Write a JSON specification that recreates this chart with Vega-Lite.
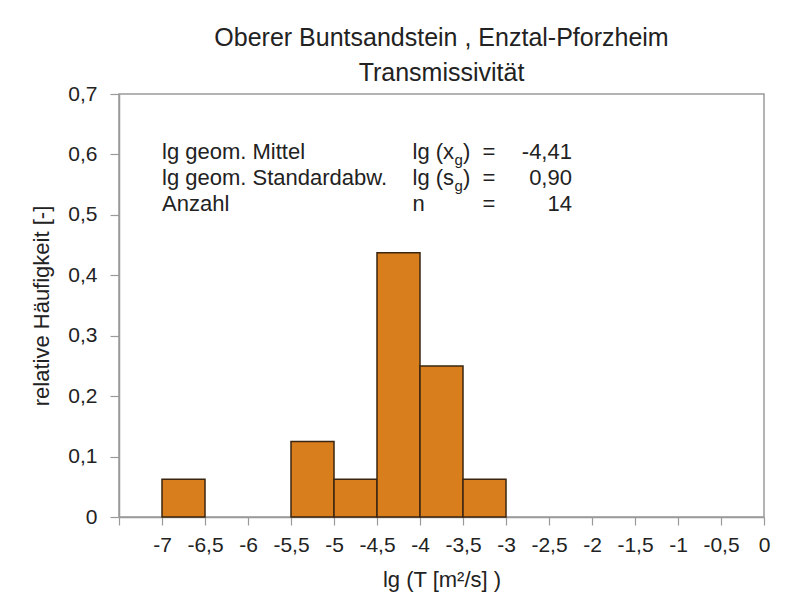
{
  "$schema": "https://vega.github.io/schema/vega-lite/v6.json",
  "width": 645,
  "height": 423,
  "autosize": {"type": "none"},
  "padding": {"left": 119, "top": 94, "right": 24, "bottom": 98},
  "background": "white",
  "title": {
    "text": ["Oberer Buntsandstein , Enztal-Pforzheim", "Transmissivität"],
    "anchor": "middle",
    "fontSize": 25,
    "font": "Liberation Sans",
    "fontWeight": "normal",
    "color": "#222",
    "lineHeight": 35,
    "offset": -3
  },
  "config": {
    "view": {"stroke": "#9a9a9a", "strokeWidth": 1.5},
    "font": "Liberation Sans",
    "axis": {
      "grid": false,
      "domainColor": "#9a9a9a",
      "domainWidth": 1.5,
      "tickColor": "#9a9a9a",
      "tickWidth": 1.2,
      "labelFont": "Liberation Sans",
      "labelFontSize": 21,
      "labelColor": "#222",
      "titleFont": "Liberation Sans",
      "titleFontSize": 22,
      "titleFontWeight": "normal",
      "titleColor": "#222"
    }
  },
  "datasets": {
    "bins": [
      {"start": -7.0, "end": -6.5, "freq": 0.0625},
      {"start": -5.5, "end": -5.0, "freq": 0.125},
      {"start": -5.0, "end": -4.5, "freq": 0.0625},
      {"start": -4.5, "end": -4.0, "freq": 0.4375},
      {"start": -4.0, "end": -3.5, "freq": 0.25},
      {"start": -3.5, "end": -3.0, "freq": 0.0625}
    ],
    "stats": [
      {"part": "label", "text": "lg geom. Mittel", "x": -7.0, "y": 0.592},
      {"part": "label", "text": "lg geom. Standardabw.", "x": -7.0, "y": 0.550},
      {"part": "label", "text": "Anzahl", "x": -7.0, "y": 0.507},
      {"part": "sym", "text": "lg (x", "x": -4.087, "y": 0.592},
      {"part": "sym", "text": "lg (s", "x": -4.087, "y": 0.550},
      {"part": "sym", "text": "n", "x": -4.087, "y": 0.507},
      {"part": "sub", "text": "g", "x": -3.6, "y": 0.592},
      {"part": "sub", "text": "g", "x": -3.6, "y": 0.550},
      {"part": "sym", "text": ")", "x": -3.5, "y": 0.592},
      {"part": "sym", "text": ")", "x": -3.5, "y": 0.550},
      {"part": "eq", "text": "=", "x": -3.2, "y": 0.592},
      {"part": "eq", "text": "=", "x": -3.2, "y": 0.550},
      {"part": "eq", "text": "=", "x": -3.2, "y": 0.507},
      {"part": "val", "text": "-4,41", "x": -2.233, "y": 0.592},
      {"part": "val", "text": "0,90", "x": -2.233, "y": 0.550},
      {"part": "val", "text": "14", "x": -2.233, "y": 0.507}
    ]
  },
  "layer": [
    {
      "data": {"name": "bins"},
      "mark": {"type": "rect", "fill": "#D97E1C", "stroke": "#3a2610", "strokeWidth": 1.5},
      "encoding": {
        "x": {
          "field": "start", "type": "quantitative",
          "scale": {"domain": [-7.5, 0], "nice": false, "zero": false},
          "axis": {
            "title": "lg (T [m²/s] )",
            "values": [-7.5, -7, -6.5, -6, -5.5, -5, -4.5, -4, -3.5, -3, -2.5, -2, -1.5, -1, -0.5, 0],
            "labelExpr": "datum.value == -7.5 ? '' : replace(toString(datum.value), '.', ',')",
            "tickSize": 8,
            "labelPadding": 9,
            "titlePadding": 14,
            "labelFlush": false
          }
        },
        "x2": {"field": "end"},
        "y": {
          "field": "freq", "type": "quantitative",
          "scale": {"domain": [0, 0.7], "nice": false},
          "axis": {
            "title": "relative Häufigkeit [-]",
            "values": [0, 0.1, 0.2, 0.3, 0.4, 0.5, 0.6, 0.7],
            "labelExpr": "datum.value == 0 ? '0' : replace(format(datum.value, '.1f'), '.', ',')",
            "tickSize": 9,
            "labelPadding": 13,
            "titlePadding": 14,
            "labelFlush": false
          }
        },
        "y2": {"datum": 0}
      }
    },
    {
      "data": {"name": "stats"},
      "transform": [{"filter": "datum.part == 'label' || datum.part == 'sym'"}],
      "mark": {"type": "text", "align": "left", "baseline": "alphabetic", "fontSize": 22, "color": "#222"},
      "encoding": {
        "x": {"field": "x", "type": "quantitative"},
        "y": {"field": "y", "type": "quantitative"},
        "text": {"field": "text"}
      }
    },
    {
      "data": {"name": "stats"},
      "transform": [{"filter": "datum.part == 'sub'"}],
      "mark": {"type": "text", "align": "left", "baseline": "alphabetic", "fontSize": 15, "dy": 6, "color": "#222"},
      "encoding": {
        "x": {"field": "x", "type": "quantitative"},
        "y": {"field": "y", "type": "quantitative"},
        "text": {"field": "text"}
      }
    },
    {
      "data": {"name": "stats"},
      "transform": [{"filter": "datum.part == 'eq'"}],
      "mark": {"type": "text", "align": "center", "baseline": "alphabetic", "fontSize": 22, "color": "#222"},
      "encoding": {
        "x": {"field": "x", "type": "quantitative"},
        "y": {"field": "y", "type": "quantitative"},
        "text": {"field": "text"}
      }
    },
    {
      "data": {"name": "stats"},
      "transform": [{"filter": "datum.part == 'val'"}],
      "mark": {"type": "text", "align": "right", "baseline": "alphabetic", "fontSize": 22, "color": "#222"},
      "encoding": {
        "x": {"field": "x", "type": "quantitative"},
        "y": {"field": "y", "type": "quantitative"},
        "text": {"field": "text"}
      }
    }
  ]
}
